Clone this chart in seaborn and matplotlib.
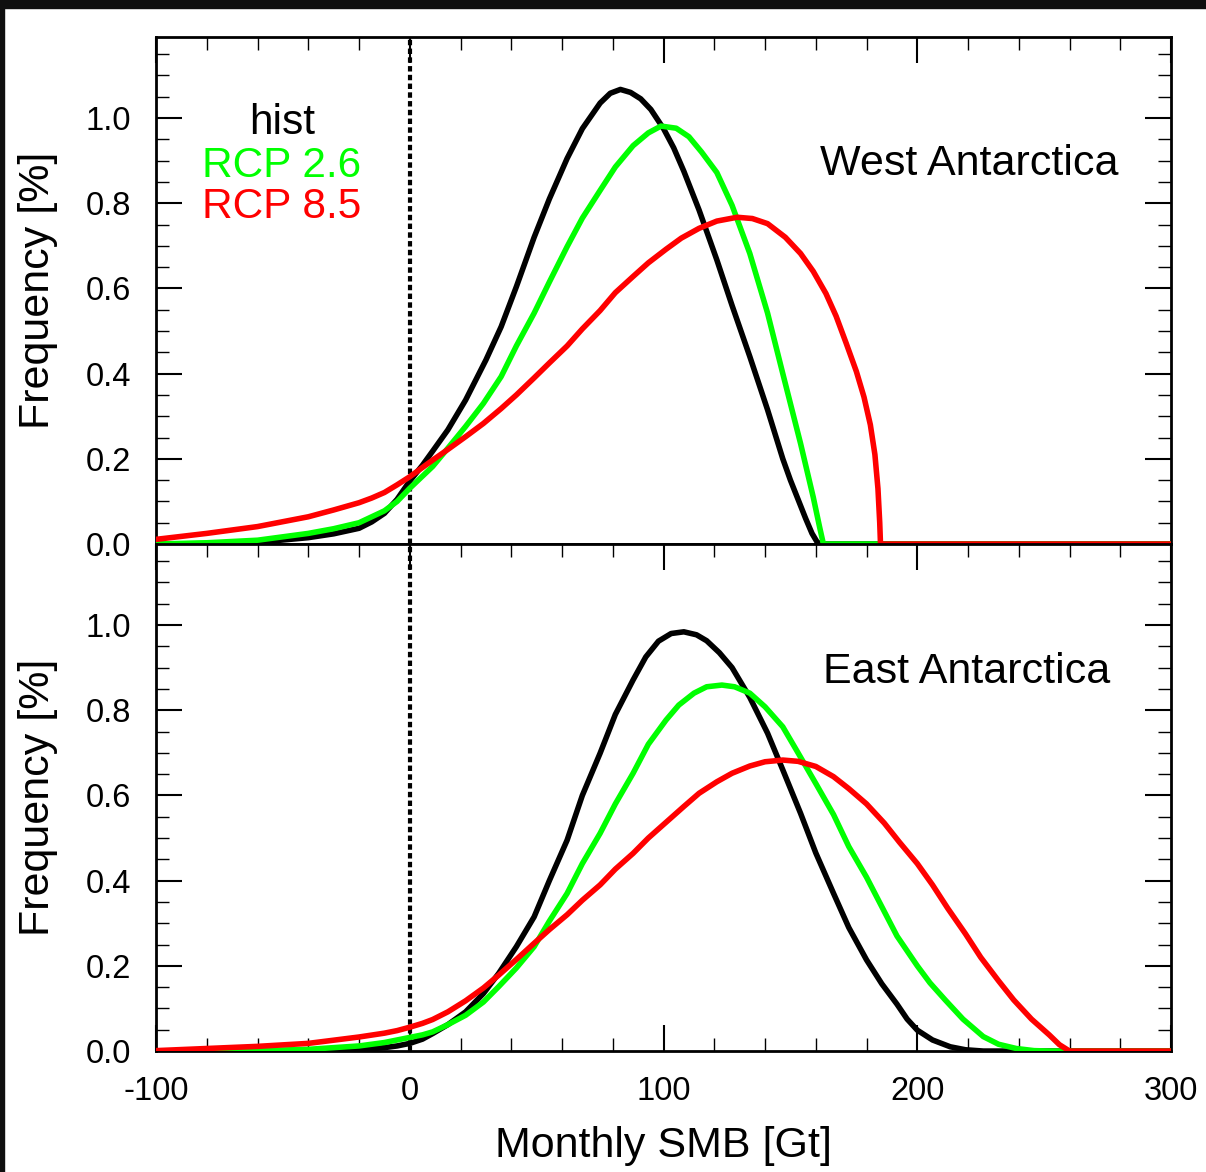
import numpy as np
import pandas as pd
import seaborn as sns
import matplotlib.pyplot as plt
from matplotlib.ticker import MultipleLocator
from matplotlib.patches import Rectangle

# West Antarctica
west_hist_x = [-100, -80, -60, -40, -30, -20, -15, -10, -5, 0, 5, 9, 15, 22, 30, 36, 42, 49, 55, 62,
               68, 75, 79, 83, 87, 91, 95, 100, 104, 108, 114, 121, 127, 134, 141, 147, 150, 153,
               156, 158.5, 160.5, 162, 300]
west_hist_y = [0.0, 0.001, 0.004, 0.015, 0.024, 0.037, 0.052, 0.072, 0.105, 0.148, 0.185, 0.218, 0.268,
               0.338, 0.432, 0.51, 0.604, 0.72, 0.81, 0.905, 0.975, 1.035, 1.058, 1.067, 1.06, 1.045,
               1.02, 0.975, 0.93, 0.875, 0.784, 0.667, 0.56, 0.44, 0.315, 0.2, 0.15, 0.105, 0.06,
               0.025, 0.005, 0.0, 0.0]
west_rcp26_x = [-100, -80, -60, -40, -30, -20, -10, -5, 0, 9, 15, 22, 29, 36, 42, 49, 55, 62, 68, 75,
                81, 88, 94, 99, 105, 110, 115, 121, 127, 134, 141, 147, 154, 159, 161.5, 163, 300]
west_rcp26_y = [0.0, 0.003, 0.009, 0.025, 0.036, 0.05, 0.078, 0.1, 0.131, 0.182, 0.225, 0.276, 0.33,
                0.393, 0.465, 0.542, 0.615, 0.698, 0.765, 0.83, 0.885, 0.935, 0.965, 0.981, 0.976,
                0.956, 0.92, 0.872, 0.795, 0.682, 0.542, 0.4, 0.236, 0.11, 0.04, 0.0, 0.0]
west_rcp85_x = [-100, -80, -60, -40, -30, -20, -15, -10, -5, 0, 9, 15, 22, 29, 36, 42, 49, 55, 62, 68,
                75, 81, 88, 94, 101, 107, 114, 121, 129, 135, 141, 148, 154, 159, 164, 168, 172, 176,
                179, 181.5, 183.3, 184.5, 185.2, 185.5, 300]
west_rcp85_y = [0.011, 0.025, 0.041, 0.064, 0.08, 0.097, 0.108, 0.121, 0.139, 0.158, 0.197, 0.222,
                0.252, 0.283, 0.318, 0.35, 0.39, 0.425, 0.465, 0.505, 0.548, 0.59, 0.628, 0.66,
                0.692, 0.718, 0.741, 0.758, 0.767, 0.764, 0.752, 0.72, 0.682, 0.64, 0.588, 0.535,
                0.471, 0.405, 0.345, 0.28, 0.21, 0.13, 0.05, 0.0, 0.0]

# East Antarctica
east_hist_x = [-100, -60, -40, -20, -10, -5, 0, 5, 9, 15, 22, 29, 35, 42, 49, 55, 62, 68, 75, 81, 88,
               93, 98, 103, 108, 113, 117, 122, 127, 134, 141, 147, 154, 160, 167, 173, 180, 186,
               192, 196, 200, 206, 213, 219, 226, 300]
east_hist_y = [0.0, 0.0, 0.001, 0.003, 0.008, 0.012, 0.018, 0.028, 0.041, 0.062, 0.092, 0.135, 0.182,
               0.245, 0.315, 0.4, 0.495, 0.6, 0.699, 0.79, 0.871, 0.925, 0.962, 0.98, 0.984, 0.977,
               0.963, 0.935, 0.9, 0.83, 0.746, 0.66, 0.558, 0.465, 0.37, 0.29, 0.214, 0.158, 0.11,
               0.075, 0.049, 0.026, 0.01, 0.003, 0.0, 0.0]
east_rcp26_x = [-100, -60, -40, -20, -10, -5, 0, 5, 9, 15, 22, 29, 35, 42, 49, 55, 62, 68, 75, 81, 88,
                94, 101, 106, 112, 117, 123, 128, 134, 140, 147, 153, 160, 167, 173, 180, 186, 192,
                200, 205, 211, 218, 226, 232, 239, 246, 252, 300]
east_rcp26_y = [0.0, 0.001, 0.004, 0.012, 0.02, 0.026, 0.032, 0.038, 0.045, 0.062, 0.084, 0.115,
                0.151, 0.195, 0.245, 0.305, 0.37, 0.44, 0.511, 0.58, 0.652, 0.72, 0.777, 0.812, 0.84,
                0.855, 0.859, 0.855, 0.84, 0.808, 0.761, 0.7, 0.628, 0.555, 0.48, 0.408, 0.339, 0.27,
                0.2, 0.16, 0.12, 0.075, 0.034, 0.016, 0.006, 0.001, 0.0, 0.0]
east_rcp85_x = [-100, -80, -60, -40, -20, -10, -5, 0, 5, 9, 15, 22, 29, 35, 42, 49, 55, 62, 68, 75,
                81, 88, 94, 101, 108, 114, 121, 127, 134, 140, 147, 153, 160, 167, 173, 180, 187,
                193, 200, 206, 212, 219, 225, 232, 238, 245, 252, 256, 260, 300]
east_rcp85_y = [0.001, 0.006, 0.011, 0.018, 0.033, 0.042, 0.048, 0.056, 0.065, 0.074, 0.092, 0.118,
                0.148, 0.178, 0.215, 0.253, 0.285, 0.32, 0.354, 0.39, 0.427, 0.464, 0.5, 0.537,
                0.574, 0.605, 0.632, 0.652, 0.669, 0.679, 0.683, 0.68, 0.668, 0.644, 0.616, 0.58,
                0.535, 0.49, 0.44, 0.39, 0.335, 0.275, 0.22, 0.165, 0.12, 0.075, 0.038, 0.015, 0.0,
                0.0]

scenarios = ['hist', 'RCP 2.6', 'RCP 8.5']
colors = {'hist': '#000000', 'RCP 2.6': '#00ff00', 'RCP 8.5': '#ff0000'}


def make_df(curves):
    frames = []
    for name, (xs, ys) in zip(scenarios, curves):
        frames.append(pd.DataFrame({'smb': xs, 'freq': ys, 'scenario': name}))
    return pd.concat(frames, ignore_index=True)


west = make_df([(west_hist_x, west_hist_y), (west_rcp26_x, west_rcp26_y), (west_rcp85_x, west_rcp85_y)])
east = make_df([(east_hist_x, east_hist_y), (east_rcp26_x, east_rcp26_y), (east_rcp85_x, east_rcp85_y)])

sns.set_style('ticks')
plt.rcParams['font.family'] = ['Liberation Sans', 'DejaVu Sans']
plt.rcParams['text.color'] = 'black'
plt.rcParams['axes.labelcolor'] = 'black'
plt.rcParams['axes.unicode_minus'] = False

fig = plt.figure(figsize=(12.06, 11.72), dpi=100)
ax1 = fig.add_axes([0.1294, 0.5358, 0.8416, 0.4326])
ax2 = fig.add_axes([0.1294, 0.1032, 0.8416, 0.4326])

# screenshot frame
fig.patches.append(Rectangle((0, 1 - 8 / 1172), 1, 8 / 1172, transform=fig.transFigure,
                             color='#0f0f0f', zorder=10))
fig.patches.append(Rectangle((0, 0), 4 / 1206, 1, transform=fig.transFigure,
                             color='#0f0f0f', zorder=10))

for ax, df in [(ax1, west), (ax2, east)]:
    ax.axvline(0, color='black', lw=3.0, ls=(0, (1.3, 0.8)), dash_capstyle='butt', zorder=1)
    sns.lineplot(data=df, x='smb', y='freq', hue='scenario', palette=colors, hue_order=scenarios,
                 sort=False, estimator=None, linewidth=4.0, legend=False, ax=ax, zorder=3,
                 solid_capstyle='round', solid_joinstyle='round')
    ax.set_xlim(-100, 300)
    ax.set_ylim(0, 1.19)
    ax.xaxis.set_major_locator(MultipleLocator(100))
    ax.xaxis.set_minor_locator(MultipleLocator(20))
    ax.yaxis.set_major_locator(MultipleLocator(0.2))
    ax.yaxis.set_minor_locator(MultipleLocator(0.05))
    ax.yaxis.set_major_formatter(plt.FormatStrFormatter('%.1f'))
    ax.tick_params(which='both', direction='in', left=True, right=True, top=True, colors='black',
                   labelsize=23.5, pad=18)
    ax.tick_params(which='major', length=19, width=1.5)
    ax.tick_params(which='minor', length=9.5, width=1.0)
    for s in ax.spines.values():
        s.set_linewidth(2.0)
        s.set_color('black')
    ax.set_ylabel('Frequency [%]', fontsize=31, labelpad=20)

ax1.text(0.9478, 0.728, 'West Antarctica', transform=ax1.transAxes,
         ha='right', va='baseline', fontsize=31)
ax2.text(0.9399, 0.725, 'East Antarctica', transform=ax2.transAxes,
         ha='right', va='baseline', fontsize=31)

ax1.tick_params(axis='x', which='both', bottom=False, labelbottom=False)
ax2.tick_params(axis='x', which='both', bottom=True)
ax2.set_xlabel('Monthly SMB [Gt]', fontsize=31, labelpad=14)

# scenario labels
for name, yb in zip(scenarios, [0.962, 0.862, 0.765]):
    ax1.text(-50.4, yb, name, color=colors[name], ha='center', va='baseline', fontsize=30.5)

fig.savefig('out.png', dpi=100, facecolor='white')
